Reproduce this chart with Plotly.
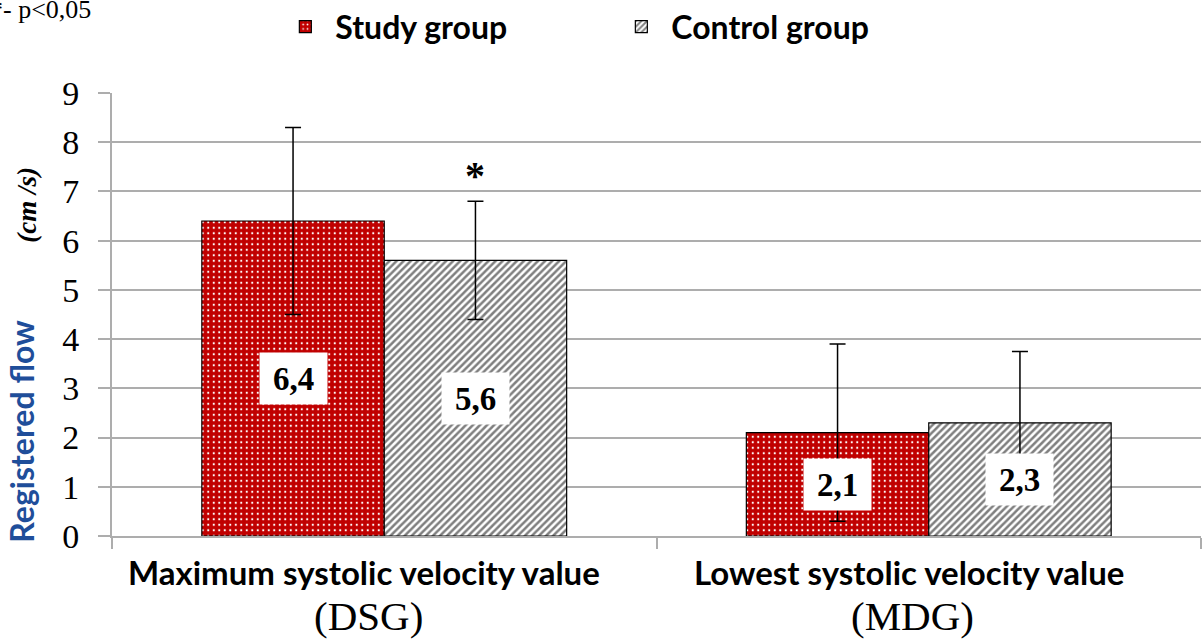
import plotly.graph_objects as go

# ---- data -------------------------------------------------------------
categories = ["Maximum systolic velocity value", "Lowest systolic velocity value"]
category_codes = ["(DSG)", "(MDG)"]
study_values = [6.4, 2.1]
study_errors = [1.9, 1.8]
control_values = [5.6, 2.3]
control_errors = [1.2, 1.45]
control_significant = [True, False]
y_ticks = [0, 1, 2, 3, 4, 5, 6, 7, 8, 9]

# ---- styling ----------------------------------------------------------
RED = "#C00000"
GRID = "#ADADAD"
SERIF = "Liberation Serif"
SANS = "Lato"
BARGAP = 0.33
group_width = 1 - BARGAP
offsets = [-group_width / 4, group_width / 4]
x_pos = list(range(len(categories)))


def comma(v):
    return f"{v:.1f}".replace(".", ",")


fig = go.Figure()

fig.add_trace(go.Bar(
    name="Study group",
    x=x_pos, y=study_values,
    error_y=dict(type="data", array=study_errors, visible=True,
                 color="black", thickness=1.5, width=8),
    marker=dict(color=RED, line=dict(color="black", width=1.2),
                pattern=dict(shape=".", fgcolor="white", bgcolor=RED,
                             size=5.5, solidity=0.12, fillmode="replace")),
))
fig.add_trace(go.Bar(
    name="Control group",
    x=x_pos, y=control_values,
    error_y=dict(type="data", array=control_errors, visible=True,
                 color="black", thickness=1.5, width=8),
    marker=dict(color="white", line=dict(color="black", width=1.2),
                pattern=dict(shape="/", fgcolor="#7F7F7F", bgcolor="white",
                             size=5, solidity=0.5, fillmode="replace")),
))

annotations = []

# value boxes in the middle of each bar
for series, off in ((study_values, offsets[0]), (control_values, offsets[1])):
    for i, v in enumerate(series):
        annotations.append(dict(
            x=i + off, y=v / 2, xref="x", yref="y", text=f"<b>{comma(v)}</b>",
            showarrow=False, bgcolor="white", width=67, height=51, borderpad=0,
            font=dict(family=SERIF, size=33, color="black"),
        ))

# significance marks above the control bars
for i, sig in enumerate(control_significant):
    if sig:
        annotations.append(dict(
            x=i + offsets[1], y=control_values[i] + control_errors[i],
            xref="x", yref="y", text="<b>*</b>", showarrow=False, yshift=26,
            font=dict(family=SERIF, size=40, color="black"),
        ))

# category labels (two lines, two typefaces)
for i, (name, code) in enumerate(zip(categories, category_codes)):
    annotations.append(dict(
        x=i, y=0, xref="x", yref="paper", text=f"<b>{name}</b>",
        showarrow=False, yshift=-36, xshift=-20, yanchor="middle",
        font=dict(family=SANS, size=33, color="black"),
    ))
    annotations.append(dict(
        x=i, y=0, xref="x", yref="paper", text=code,
        showarrow=False, yshift=-80, xshift=-16, yanchor="middle",
        font=dict(family=SERIF, size=41, color="black"),
    ))

# y-axis title
annotations.append(dict(
    x=0, y=2.13, xref="paper", yref="y", text="<b>Registered flow</b>",
    textangle=-90, showarrow=False, xshift=-112,
    font=dict(family=SANS, size=32, color="#1F4E9A"),
))
annotations.append(dict(
    x=0, y=6.73, xref="paper", yref="y", text="<b><i>(cm /s)</i></b>",
    textangle=-90, showarrow=False, xshift=-102,
    font=dict(family=SERIF, size=27, color="black"),
))

# significance footnote
annotations.append(dict(
    x=0, y=1, xref="paper", yref="paper", text="*- p&lt;0,05",
    showarrow=False, xanchor="left", yanchor="middle", xshift=-124, yshift=84,
    font=dict(family=SERIF, size=26, color="black"),
))

fig.update_layout(
    width=1203, height=641,
    margin=dict(l=112, r=2, t=93, b=105, autoexpand=False),
    paper_bgcolor="white", plot_bgcolor="white",
    barmode="group", bargap=BARGAP, bargroupgap=0,
    showlegend=True,
    legend=dict(orientation="h", x=0.15, xanchor="left",
                yref="container", y=0.958, yanchor="middle",
                font=dict(family=SANS, size=32, color="black", weight="bold"),
                entrywidth=271, entrywidthmode="pixels", itemwidth=50,
                bgcolor="rgba(0,0,0,0)"),
    annotations=annotations,
    xaxis=dict(range=[-0.5, len(categories) - 0.5], showgrid=False,
               tickvals=[k - 0.5 for k in range(len(categories) + 1)],
               ticktext=["" for _ in range(len(categories) + 1)],
               ticks="outside", ticklen=11, tickwidth=2, tickcolor=GRID,
               showline=True, linecolor=GRID, linewidth=2, zeroline=False),
    yaxis=dict(range=[0, 9], tickvals=y_ticks, ticktext=[str(t) for t in y_ticks],
               showgrid=True, gridcolor=GRID, gridwidth=2,
               ticks="outside", ticklen=12, tickwidth=2, tickcolor=GRID,
               showline=True, linecolor=GRID, linewidth=2, zeroline=False,
               ticklabelstandoff=12,
               tickfont=dict(family=SERIF, size=34, color="black")),
)

fig.write_html("out.html")
